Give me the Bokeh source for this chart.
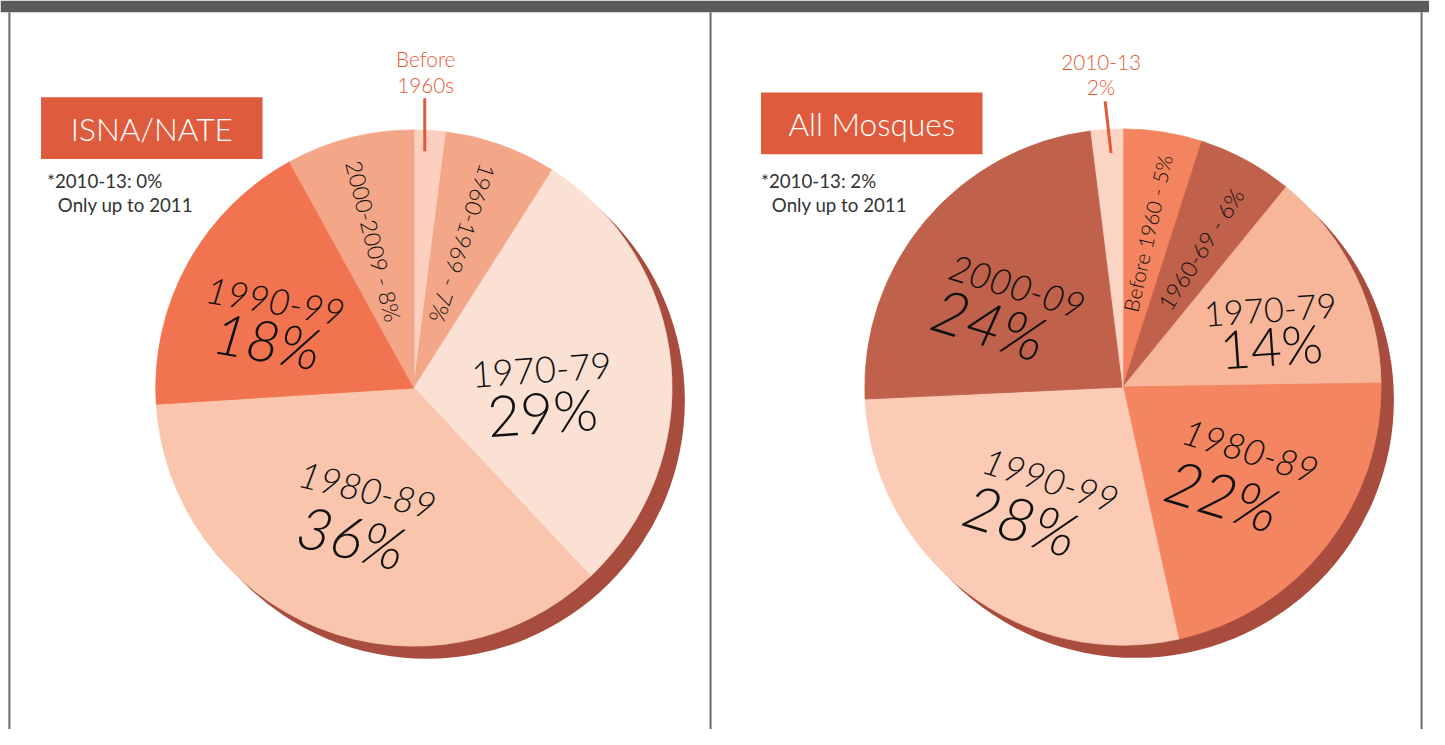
from bokeh.plotting import figure
from bokeh.models import Range1d
from bokeh.embed import file_html
from bokeh.resources import INLINE
from bokeh.core.properties import value
import numpy as np

# ---------------- data ----------------
isna_categories = ["Before 1960s", "1960-1969", "1970-79", "1980-89", "1990-99", "2000-2009"]
isna_values = [2, 7, 29, 36, 18, 8]
isna_colors = ["#fccfbe", "#f4a688", "#fbe0d4", "#f9c6ad", "#f27350", "#f4a688"]

all_categories = ["Before 1960", "1960-69", "1970-79", "1980-89", "1990-99", "2000-09", "2010-13"]
all_values = [5, 6, 14, 22, 28, 24, 2]
all_colors = ["#f4845f", "#c0614b", "#f7b59a", "#f48561", "#fbcbb6", "#c0614b", "#fcd4c4"]

titles = ["ISNA/NATE", "All Mosques"]
notes_line1 = ["*2010-13: 0%", "*2010-13: 2%"]
notes_line2 = ["Only up to 2011", "Only up to 2011"]

# ---------------- layout ----------------
W, H = 1445, 745
def Y(y):
    return H - y

def fs(px):
    return f"{px * 0.985:.1f}px"

R = 261
centers = [(418, 396), (1135, 395)]
SHADOW = 13
FONT = value("Lato Light")
FONT_REG = value("Lato")

p = figure(width=1429, height=729, x_range=Range1d(0, W), y_range=Range1d(0, H),
           output_backend="svg", toolbar_location=None, min_border=0,
           x_axis_location=None, y_axis_location=None, background_fill_color="white",
           border_fill_color="white")
p.outline_line_color = None
p.xgrid.visible = False
p.ygrid.visible = False

# header bar and frame lines
p.quad(left=0, right=W, top=Y(0), bottom=Y(12), fill_color="#5b5b5d", line_color=None)
for xl in [9, 718, 1437]:
    p.segment(x0=xl, y0=Y(12), x1=xl, y1=Y(745), line_color="#6a6a6a", line_width=2)


def draw_pie(cx, cy, vals, colors):
    v = np.array(vals, dtype=float)
    frac = v / v.sum()
    ends = np.cumsum(frac)
    starts = ends - frac
    start_angle = np.pi / 2 - 2 * np.pi * ends
    end_angle = np.pi / 2 - 2 * np.pi * starts
    p.circle(x=cx + SHADOW, y=Y(cy + SHADOW), radius=R, fill_color="#a84c3e", line_color=None)
    p.wedge(x=cx, y=Y(cy), radius=R, start_angle=list(start_angle), end_angle=list(end_angle),
            fill_color=colors, line_color=colors, line_width=0.8)


draw_pie(centers[0][0], centers[0][1], isna_values, isna_colors)
draw_pie(centers[1][0], centers[1][1], all_values, all_colors)

# title boxes
box_l = [41, 769]
box_r = [265, 993]
box_t = [99, 94]
box_b = [162, 157]
p.quad(left=box_l, right=box_r, top=[Y(t) for t in box_t], bottom=[Y(b) for b in box_b],
       fill_color="#df5b3d", line_color=None)
p.text(x=[(a + b) / 2 for a, b in zip(box_l, box_r)], y=[Y((a + b) / 2 + 1) for a, b in zip(box_t, box_b)],
       text=titles, text_font=FONT, text_font_size=fs(32), text_color="white",
       text_align="center", text_baseline="middle")

# notes
p.text(x=[47, 769], y=[Y(184), Y(184)], text=notes_line1, text_font=FONT_REG, text_font_size=fs(19),
       text_color="#333333", text_align="left", text_baseline="middle")
p.text(x=[58, 780], y=[Y(209), Y(209)], text=notes_line2, text_font=FONT_REG, text_font_size=fs(19),
       text_color="#333333", text_align="left", text_baseline="middle")

# callouts for tiny slices
p.text(x=[430, 430, 1113, 1113], y=[Y(60), Y(86), Y(63), Y(88)],
       text=["Before", isna_categories[0].replace("Before ", ""), all_categories[6], f"{all_values[6]}%"],
       text_font=FONT, text_font_size=fs(21), text_color="#e35a38",
       text_align="center", text_baseline="middle")
p.segment(x0=[429, 1117], y0=[Y(100), Y(103)], x1=[429, 1123], y1=[Y(154), Y(156)],
          line_color="#e05a3a", line_width=3)

# rotated small slice labels
small_text = [f"{isna_categories[5]} - {isna_values[5]}%", f"{isna_categories[1]} - {isna_values[1]}%",
              f"Before 1960 - {all_values[0]}%", f"{all_categories[1]} - {all_values[1]}%"]
small_x = [377, 467, 1160, 1214]
small_y = [246, 248, 238, 254]
small_a = [-1.325, -1.89, 1.35, 1.005]
small_sz = [23, 23, 21, 23]
for t, x, y, a, s in zip(small_text, small_x, small_y, small_a, small_sz):
    p.text(x=[x], y=[Y(y)], text=[t], angle=[a], text_font=FONT, text_font_size=fs(s),
           text_color="#111111", text_align="center", text_baseline="middle")

# big labels: (category label, value) placed per slice
big_cat = [isna_categories[4], isna_categories[3], isna_categories[2],
           all_categories[5], all_categories[2], all_categories[3], all_categories[4]]
big_val = [isna_values[4], isna_values[3], isna_values[2],
           all_values[5], all_values[2], all_values[3], all_values[4]]
cat_x = [278, 371, 547, 1028, 1284, 1264, 1062]
cat_y = [307, 500, 377, 292, 316, 460, 490]
val_x = [270, 355, 548, 1000, 1285, 1236, 1032]
val_y = [347, 548, 420, 330, 352, 505, 530]
ang = [-0.17, -0.24, 0.07, -0.3, 0.07, -0.3, -0.3]
style = ["italic", "italic", "normal", "italic", "normal", "italic", "italic"]
cat_sz = [37, 37, 37, 37, 35, 37, 37]
val_sz = [58, 60, 58, 62, 54, 62, 62]
for i in range(len(big_cat)):
    p.text(x=[cat_x[i]], y=[Y(cat_y[i])], text=[big_cat[i]], angle=[ang[i]], text_font=FONT,
           text_font_size=fs(cat_sz[i]), text_font_style=style[i], text_color="#111111",
           text_align="center", text_baseline="middle")
    p.text(x=[val_x[i]], y=[Y(val_y[i])], text=[f"{big_val[i]}%"], angle=[ang[i]], text_font=FONT,
           text_font_size=fs(val_sz[i]), text_font_style=style[i], text_color="#111111",
           text_align="center", text_baseline="middle")

open("out.html", "w").write(file_html(p, INLINE))
